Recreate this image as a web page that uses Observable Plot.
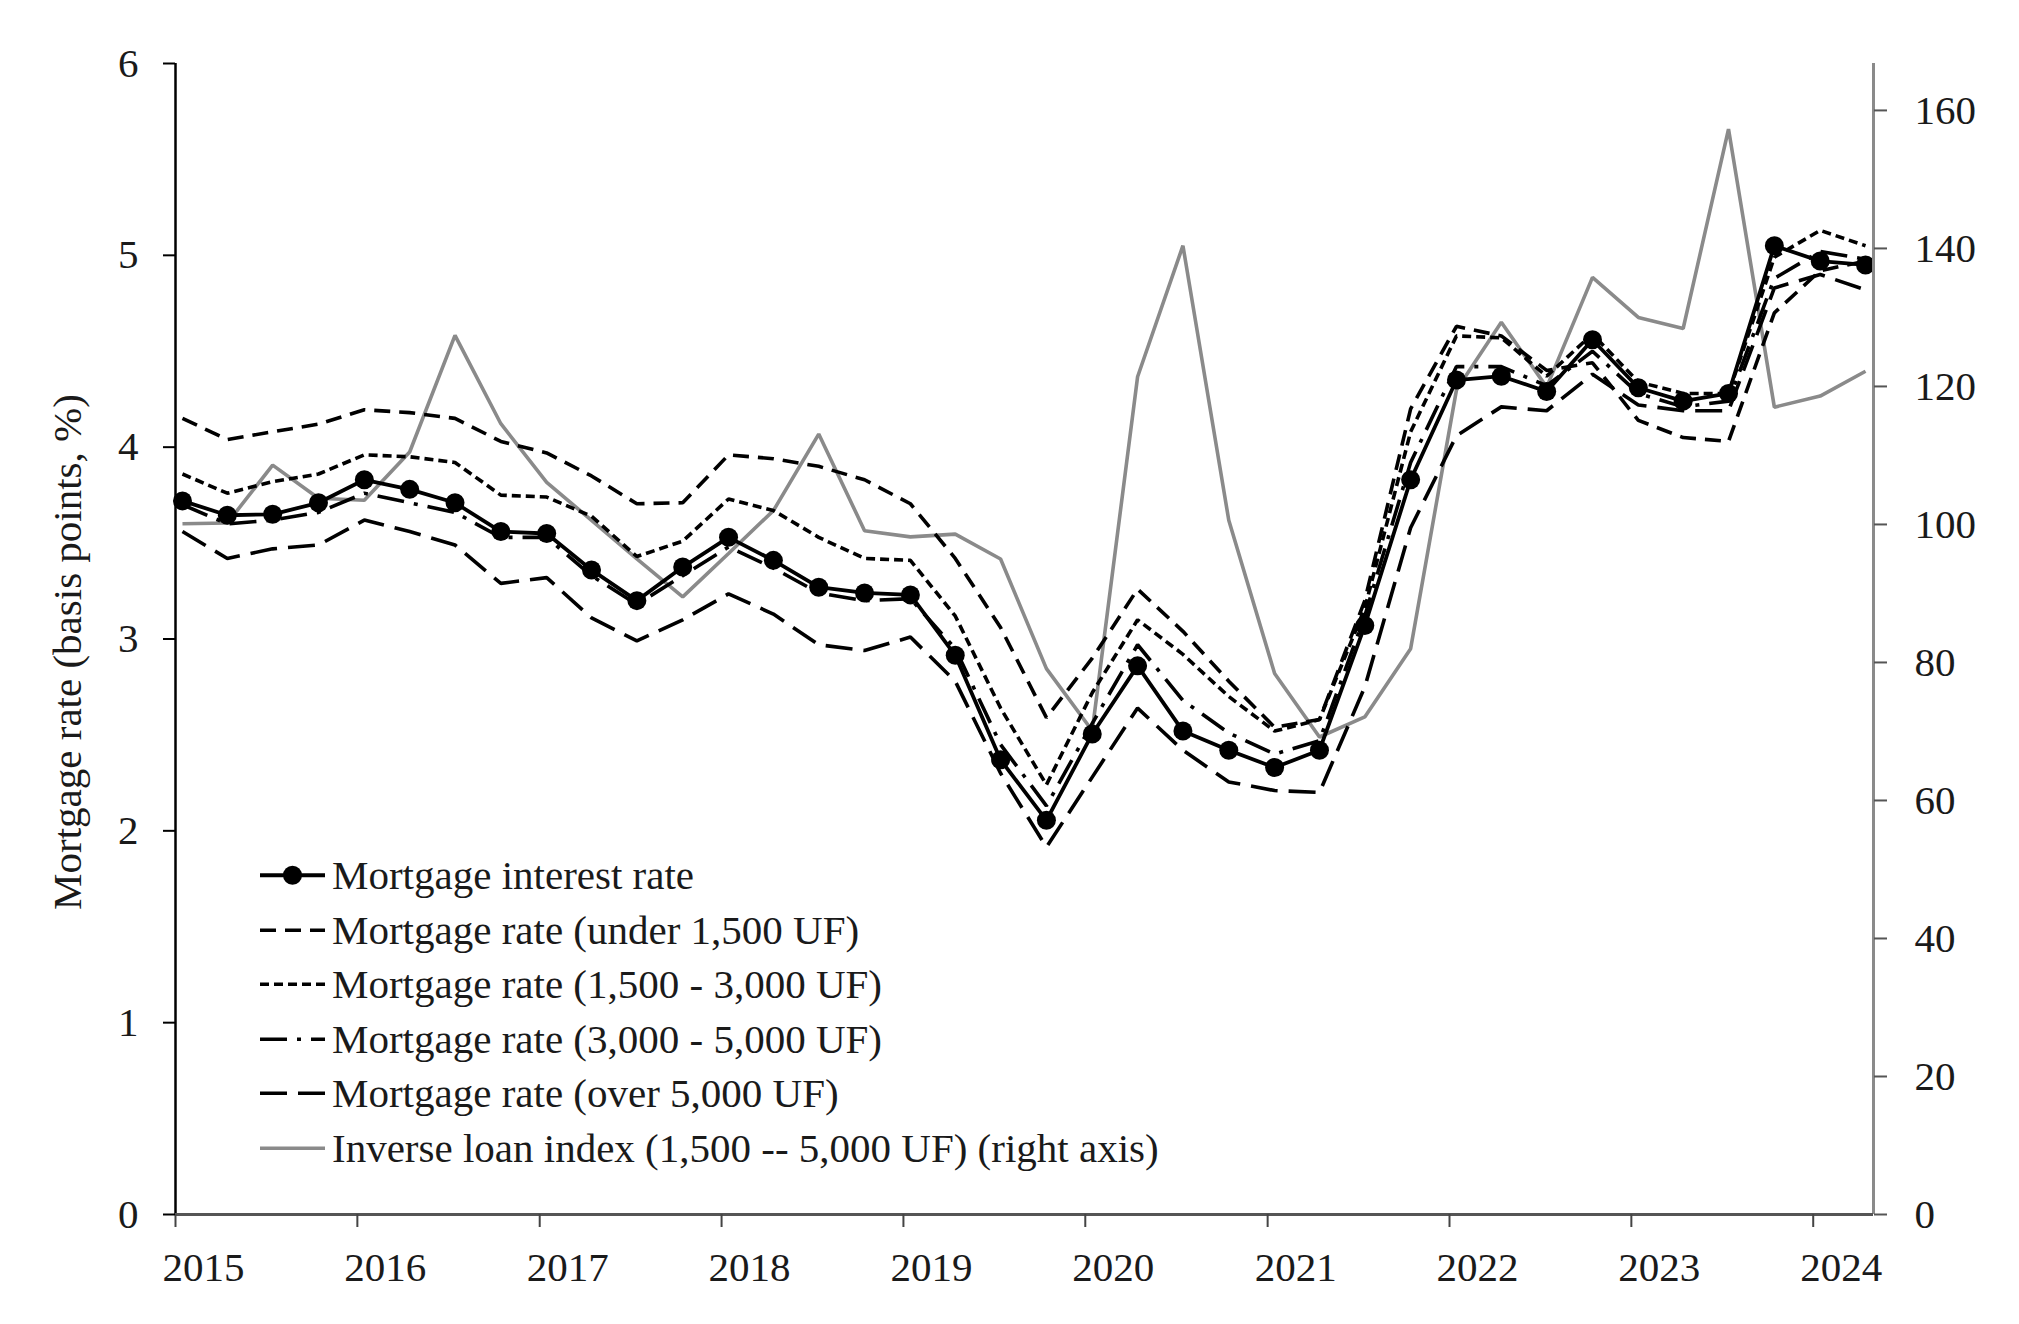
<!DOCTYPE html>
<html><head><meta charset="utf-8">
<script src="https://cdn.jsdelivr.net/npm/d3@7"></script>
<script src="https://cdn.jsdelivr.net/npm/@observablehq/plot@0.6"></script>
<style>
body{margin:0;background:#fff;}
#wrap{position:relative;width:2019px;height:1324px;font-family:"Liberation Serif",serif;color:#1a1a1a;background:#fff;}
#ytitle{position:absolute;left:67px;top:652px;transform:translate(-50%,-50%) rotate(-90deg);font-size:41px;white-space:nowrap;line-height:normal;}
#legend{position:absolute;left:260px;top:848px;font-size:41px;line-height:normal;}
.row{display:flex;align-items:center;height:54.5px;white-space:nowrap;}
.row svg{margin-right:7px;flex:none;}
</style></head><body>
<div id="wrap"><div id="chart"></div><div id="ytitle">Mortgage rate (basis points, %)</div><div id="legend"></div></div>
<script>
const quarters = ["2015Q1","2015Q2","2015Q3","2015Q4","2016Q1","2016Q2","2016Q3","2016Q4",
"2017Q1","2017Q2","2017Q3","2017Q4","2018Q1","2018Q2","2018Q3","2018Q4",
"2019Q1","2019Q2","2019Q3","2019Q4","2020Q1","2020Q2","2020Q3","2020Q4",
"2021Q1","2021Q2","2021Q3","2021Q4","2022Q1","2022Q2","2022Q3","2022Q4",
"2023Q1","2023Q2","2023Q3","2023Q4","2024Q1","2024Q2"];

const mortgageRate = [3.72,3.645,3.65,3.71,3.83,3.78,3.71,3.56,3.55,3.36,
 3.20,3.375,3.53,3.41,3.27,3.24,3.23,2.915,2.37,2.055,
 2.505,2.86,2.52,2.42,2.33,2.42,3.07,3.83,4.35,4.37,
 4.29,4.56,4.31,4.24,4.28,5.05,4.97,4.95];
const rateUnder1500 = [4.15,4.04,4.08,4.12,4.195,4.18,4.15,4.03,3.97,3.85,
 3.705,3.71,3.96,3.94,3.90,3.83,3.705,3.42,3.06,2.59,
 2.90,3.26,3.04,2.78,2.54,2.58,3.20,4.20,4.63,4.58,
 4.40,4.44,4.14,4.05,4.03,4.70,4.92,4.97];
const rate1500to3000 = [3.86,3.76,3.82,3.86,3.96,3.95,3.92,3.75,3.74,3.64,
 3.43,3.51,3.73,3.67,3.53,3.42,3.41,3.12,2.64,2.24,
 2.72,3.10,2.92,2.70,2.52,2.58,3.16,4.08,4.58,4.57,
 4.37,4.59,4.34,4.28,4.28,4.99,5.13,5.05];
const rate3000to5000 = [3.70,3.60,3.62,3.66,3.76,3.71,3.66,3.53,3.53,3.33,
 3.18,3.33,3.48,3.37,3.24,3.20,3.21,2.95,2.45,2.13,
 2.56,2.97,2.68,2.51,2.40,2.47,3.12,3.92,4.42,4.42,
 4.32,4.50,4.28,4.21,4.24,4.88,5.02,4.98];
const rateOver5000 = [3.56,3.42,3.47,3.49,3.62,3.56,3.49,3.29,3.32,3.11,
 2.99,3.10,3.235,3.13,2.97,2.94,3.01,2.78,2.30,1.915,
 2.28,2.64,2.42,2.255,2.21,2.20,2.75,3.58,4.06,4.21,
 4.19,4.38,4.22,4.19,4.19,4.83,4.90,4.82];
const inverseLoanIndex = [100.1,100.2,108.6,103.8,103.5,110.5,127.4,114.6,106.1,100.6,
 95.0,89.5,95.8,102.0,113.1,99.1,98.2,98.6,95.0,79.1,
 70.1,121.4,140.4,100.6,78.4,69.2,72.1,82.0,119.5,129.3,
 119.9,135.8,130.0,128.4,157.3,117.0,118.6,122.2];

const years = [2015,2016,2017,2018,2019,2020,2021,2022,2023,2024];
const leftTicks = [0,1,2,3,4,5,6];
const rightTicks = [0,20,40,60,80,100,120,140,160];
const leftMax = 6, rightMax = 166.8;
const k = leftMax / rightMax;

const seriesNames = [
  "Mortgage interest rate",
  "Mortgage rate (under 1,500 UF)",
  "Mortgage rate (1,500 - 3,000 UF)",
  "Mortgage rate (3,000 - 5,000 UF)",
  "Mortgage rate (over 5,000 UF)",
  "Inverse loan index (1,500 -- 5,000 UF) (right axis)"
];

const toDate = q => new Date(Date.UTC(+q.slice(0,4), (+q[5]-1)*3, 15));
const rows = quarters.map((q,i) => ({
  date: toDate(q),
  rate: mortgageRate[i], u1500: rateUnder1500[i], r1530: rate1500to3000[i],
  r3050: rate3000to5000[i], o5000: rateOver5000[i], idx: inverseLoanIndex[i] * k
}));

const styles = [
  {key:"rate", stroke:"#000", dash:null, width:3.8, dot:true},
  {key:"u1500", stroke:"#000", dash:"16,9", width:3.6},
  {key:"r1530", stroke:"#000", dash:"9,5", width:3.6},
  {key:"r3050", stroke:"#000", dash:"27,10,4,10", width:3.6},
  {key:"o5000", stroke:"#000", dash:"27,11", width:3.6},
  {key:"idx", stroke:"#8a8a8a", dash:null, width:3.6}
];

const xDomain = [new Date(Date.UTC(2015,0,1)), new Date(Date.UTC(2024,4,1))];
const yearTicks = years.map(y => new Date(Date.UTC(y,0,1)));

const lineMarks = [5,1,2,3,4,0].map(i => {
  const s = styles[i];
  return Plot.line(rows, {x:"date", y:s.key, stroke:s.stroke, strokeWidth:s.width,
    strokeDasharray:s.dash || undefined, strokeLinecap:"butt", strokeLinejoin:"miter"});
});

const chart = Plot.plot({
  width: 2019, height: 1324,
  marginLeft: 175, marginRight: 146, marginTop: 63, marginBottom: 110,
  style: {fontFamily: '"Liberation Serif", serif', fontSize: "41px", background: "#fff", color: "#1a1a1a"},
  x: {type: "utc", domain: xDomain},
  y: {domain: [0, leftMax]},
  marks: [
    ...lineMarks,
    Plot.dot(rows, {x:"date", y:"rate", r:9.5, fill:"#000", stroke:"none"}),
    Plot.ruleX([xDomain[0]], {stroke:"#000", strokeWidth:2.5}),
    Plot.ruleX([xDomain[1]], {stroke:"#8a8a8a", strokeWidth:3}),
    Plot.ruleY([0], {stroke:"#555", strokeWidth:3}),
    Plot.axisX(yearTicks, {tickSize:13, stroke:"#444", strokeWidth:2, tickFormat:() => "", label:null}),
    Plot.axisX(yearTicks, {tickSize:0, tickPadding:37, dx:28, tickFormat:d3.utcFormat("%Y"), label:null, fill:"#1a1a1a"}),
    Plot.axisY(leftTicks, {anchor:"left", tickSize:12, tickPadding:25, stroke:"#000", strokeWidth:2,
      tickFormat: d => String(d), label:null, fill:"#1a1a1a"}),
    Plot.axisY(rightTicks.map(t => t*k), {anchor:"right", tickSize:13, tickPadding:28, stroke:"#555", strokeWidth:2,
      tickFormat: d => String(Math.round(d / k)), label:null, fill:"#1a1a1a"})
  ]
});
document.getElementById("chart").appendChild(chart);

// legend
const legend = d3.select("#legend");
seriesNames.forEach((name, i) => {
  const s = styles[i];
  const row = legend.append("div").attr("class","row");
  const svg = row.append("svg").attr("width",65).attr("height",54.5);
  svg.append("line").attr("x1",0).attr("x2",65).attr("y1",27.25).attr("y2",27.25)
    .attr("stroke",s.stroke).attr("stroke-width",s.width).attr("stroke-dasharray", s.dash)
    .attr("stroke-linecap","butt");
  if (s.dot) svg.append("circle").attr("cx",32.5).attr("cy",27.25).attr("r",9.5).attr("fill","#000");
  row.append("span").text(name);
});
</script>
</body></html>
